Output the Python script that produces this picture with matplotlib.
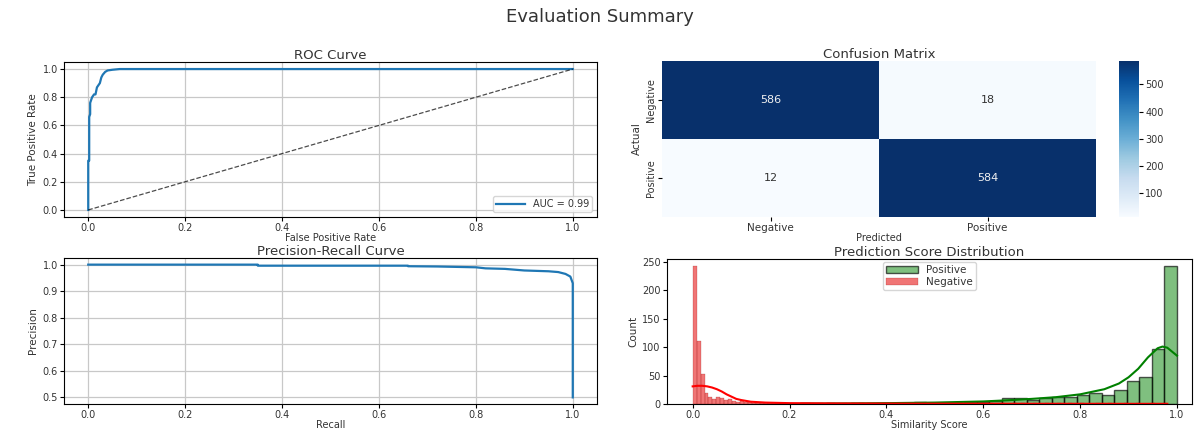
import numpy as np
import matplotlib
matplotlib.use("Agg")
import matplotlib.pyplot as plt

# ---------------- data ----------------
roc_fpr = [0.0, 0.0, 0.002, 0.002, 0.004, 0.004, 0.006, 0.008, 0.010, 0.012, 0.015,
           0.018, 0.020, 0.024, 0.027, 0.030, 0.035, 0.040, 0.050, 0.065, 1.0]
roc_tpr = [0.0, 0.35, 0.35, 0.66, 0.68, 0.76, 0.78, 0.80, 0.81, 0.82, 0.82,
           0.87, 0.88, 0.90, 0.94, 0.96, 0.98, 0.99, 0.995, 1.0, 1.0]
auc_value = 0.99

pr_recall = [0.0, 0.35, 0.35, 0.66, 0.66, 0.72, 0.80, 0.82, 0.86, 0.90, 0.95,
             0.97, 0.985, 0.995, 1.0, 1.0]
pr_precision = [1.0, 1.0, 0.996, 0.996, 0.994, 0.993, 0.99, 0.986, 0.984, 0.978, 0.975,
                0.972, 0.965, 0.955, 0.93, 0.50]

cm_labels = ["Negative", "Positive"]
cm_values = [[586, 18],
             [12, 584]]

pos_range = (0.224, 1.0)
pos_counts = [1, 0, 1, 0, 1, 0, 1, 1, 1, 4, 2, 2, 2, 3, 4, 5,
              10, 10, 7, 10, 12, 13, 15, 19, 15, 24, 40, 47, 97, 242]
neg_range = (0.0, 0.98)
neg_counts = [243, 110, 52, 20, 12, 8, 12, 10, 7, 9, 5, 4, 5, 3, 3, 2, 2,
              2, 1, 2, 1, 1, 1, 1, 2, 1, 1, 1, 1, 1, 0, 1, 1, 0, 1, 1, 0, 1, 1, 0, 1,
              0, 1, 0, 1, 1, 0, 0, 1, 0, 1, 0, 0, 1, 0, 1, 0, 1, 0, 0, 1, 0, 1,
              0, 0, 1, 0, 1, 0, 0, 1, 0, 0, 1, 0, 1, 0, 0, 1, 0, 0, 1, 0, 1, 0,
              0, 1, 0, 0, 1, 0, 0, 1, 0, 0, 1, 0, 0, 1, 0, 0, 0, 1, 0, 0, 1, 0,
              0, 0, 1, 0, 0, 1, 0, 0, 0, 1, 0, 0, 1]

pos_kde_x = [0.224, 0.30, 0.40, 0.50, 0.60, 0.65, 0.70, 0.75, 0.80, 0.85, 0.88,
             0.90, 0.92, 0.94, 0.96, 0.97, 0.98, 0.99, 1.0]
pos_kde_y = [0.5, 0.8, 1.5, 2.5, 4.5, 6.5, 9, 12, 17, 26, 36,
             47, 62, 82, 98, 101, 99, 92, 85]
neg_kde_x = [0.0, 0.01, 0.02, 0.03, 0.04, 0.05, 0.06, 0.07, 0.08, 0.09, 0.10,
             0.12, 0.15, 0.20, 0.30, 0.50, 0.70, 0.90, 0.98]
neg_kde_y = [31, 32, 32, 31, 29, 26, 22, 17, 13, 9, 7,
             4, 2.5, 1.5, 1.0, 0.6, 0.4, 0.3, 0.3]

# ---------------- figure ----------------
W, H = 1199, 434
plt.rcParams['font.family'] = ['DejaVu Sans']
fig = plt.figure(figsize=(W / 100, H / 100), dpi=100)

def box(l, t, r, b):
    return [l / W, 1 - b / H, (r - l) / W, (b - t) / H]

TICK = 7
LAB = 7
TIT = 9.5
TXT = '#333333'
ylab_font = dict(family=['Liberation Sans Narrow', 'DejaVu Sans'], fontsize=7.5, labelpad=3)

fig.suptitle("Evaluation Summary", fontsize=13, y=1 - 17 / H, va='center', color=TXT)

def style(ax):
    ax.tick_params(labelsize=TICK, pad=1.5, length=3, labelcolor=TXT)

# ROC
ax1 = fig.add_axes(box(64, 62, 597, 217))
ax1.plot(roc_fpr, roc_tpr, color='#1f77b4', lw=1.6, label=f"AUC = {auc_value:.2f}")
ax1.plot([0, 1], [0, 1], 'k--', lw=0.9, alpha=0.7)
ax1.set_title("ROC Curve", fontsize=TIT, pad=2, color=TXT)
ax1.set_xlabel("False Positive Rate", fontsize=LAB, labelpad=0, color=TXT)
ax1.set_ylabel("True Positive Rate", color=TXT, **ylab_font)
ax1.grid(True, color='#c8c8c8', lw=0.9)
ax1.legend(loc='lower right', fontsize=7, borderpad=0.3, handlelength=3,
           labelcolor=TXT)
style(ax1)

# PR
ax3 = fig.add_axes(box(64, 258, 597, 404))
ax3.plot(pr_recall, pr_precision, color='#1f77b4', lw=1.6)
ax3.set_title("Precision-Recall Curve", fontsize=TIT, pad=2, color=TXT)
ax3.set_xlabel("Recall", fontsize=LAB, labelpad=0, color=TXT)
ax3.set_ylabel("Precision", color=TXT, **ylab_font)
ax3.grid(True, color='#c8c8c8', lw=0.9)
style(ax3)

# Confusion matrix
ax2 = fig.add_axes(box(662, 61, 1096, 217))
cax = fig.add_axes(box(1119, 61, 1139, 217))
cm = np.array(cm_values)
mesh = ax2.pcolormesh(cm, cmap='Blues', vmin=cm.min(), vmax=cm.max())
ax2.set_xlim(0, 2)
ax2.set_ylim(2, 0)
for s in ax2.spines.values():
    s.set_visible(False)
norm = mesh.norm
for i in range(2):
    for j in range(2):
        v = cm[i, j]
        c = '#f0f0f0' if norm(v) > 0.5 else '#333333'
        ax2.text(j + 0.5, i + 0.5, f"{v:d}", ha='center', va='center', color=c, fontsize=8)
ax2.set_xticks([0.5, 1.5])
ax2.set_xticklabels(cm_labels)
ax2.set_yticks([0.5, 1.5])
ax2.set_yticklabels(cm_labels, rotation=90, va='center',
                    family=['Liberation Sans Narrow', 'DejaVu Sans'], fontsize=8)
ax2.set_title("Confusion Matrix", fontsize=TIT, pad=2, color=TXT)
ax2.set_xlabel("Predicted", fontsize=LAB, labelpad=0, color=TXT)
ax2.set_ylabel("Actual", color=TXT, **ylab_font)
style(ax2)
ax2.tick_params(axis='x', labelsize=7.5)
cb = fig.colorbar(mesh, cax=cax)
cb.outline.set_visible(False)
cb.set_ticks([100, 200, 300, 400, 500])
cb.ax.tick_params(labelsize=TICK, pad=1.5, length=3, labelcolor=TXT)

# Histogram
ax4 = fig.add_axes(box(667, 259, 1192, 404))
pos_edges = np.linspace(pos_range[0], pos_range[1], len(pos_counts) + 1)
neg_edges = np.linspace(neg_range[0], neg_range[1], len(neg_counts) + 1)
ax4.bar(pos_edges[:-1], pos_counts, width=np.diff(pos_edges), align='edge',
        color=(0, 0.5, 0, 0.5), edgecolor=(0, 0, 0, 0.65), linewidth=1.0, label='Positive')
ax4.bar(neg_edges[:-1], neg_counts, width=np.diff(neg_edges), align='edge',
        color=(0.9, 0.1, 0.1, 0.6), edgecolor=(0.5, 0, 0, 0.45), linewidth=0.3,
        label='Negative')
ax4.plot(pos_kde_x, pos_kde_y, color='green', lw=1.5)
ax4.plot(neg_kde_x, neg_kde_y, color='red', lw=1.5)
ax4.set_xlim(-0.053, 1.031)
ax4.set_ylim(0, 255)
ax4.set_yticks([0, 50, 100, 150, 200, 250])
ax4.set_title("Prediction Score Distribution", fontsize=TIT, pad=2, color=TXT)
ax4.set_xlabel("Similarity Score", fontsize=LAB, labelpad=0, color=TXT)
ax4.set_ylabel("Count", color=TXT, **ylab_font)
ax4.legend(loc='upper center', fontsize=7.5, borderpad=0.3, labelspacing=0.2,
           handlelength=3, labelcolor=TXT, borderaxespad=0.3)
style(ax4)

fig.savefig("out.png", dpi=100)
